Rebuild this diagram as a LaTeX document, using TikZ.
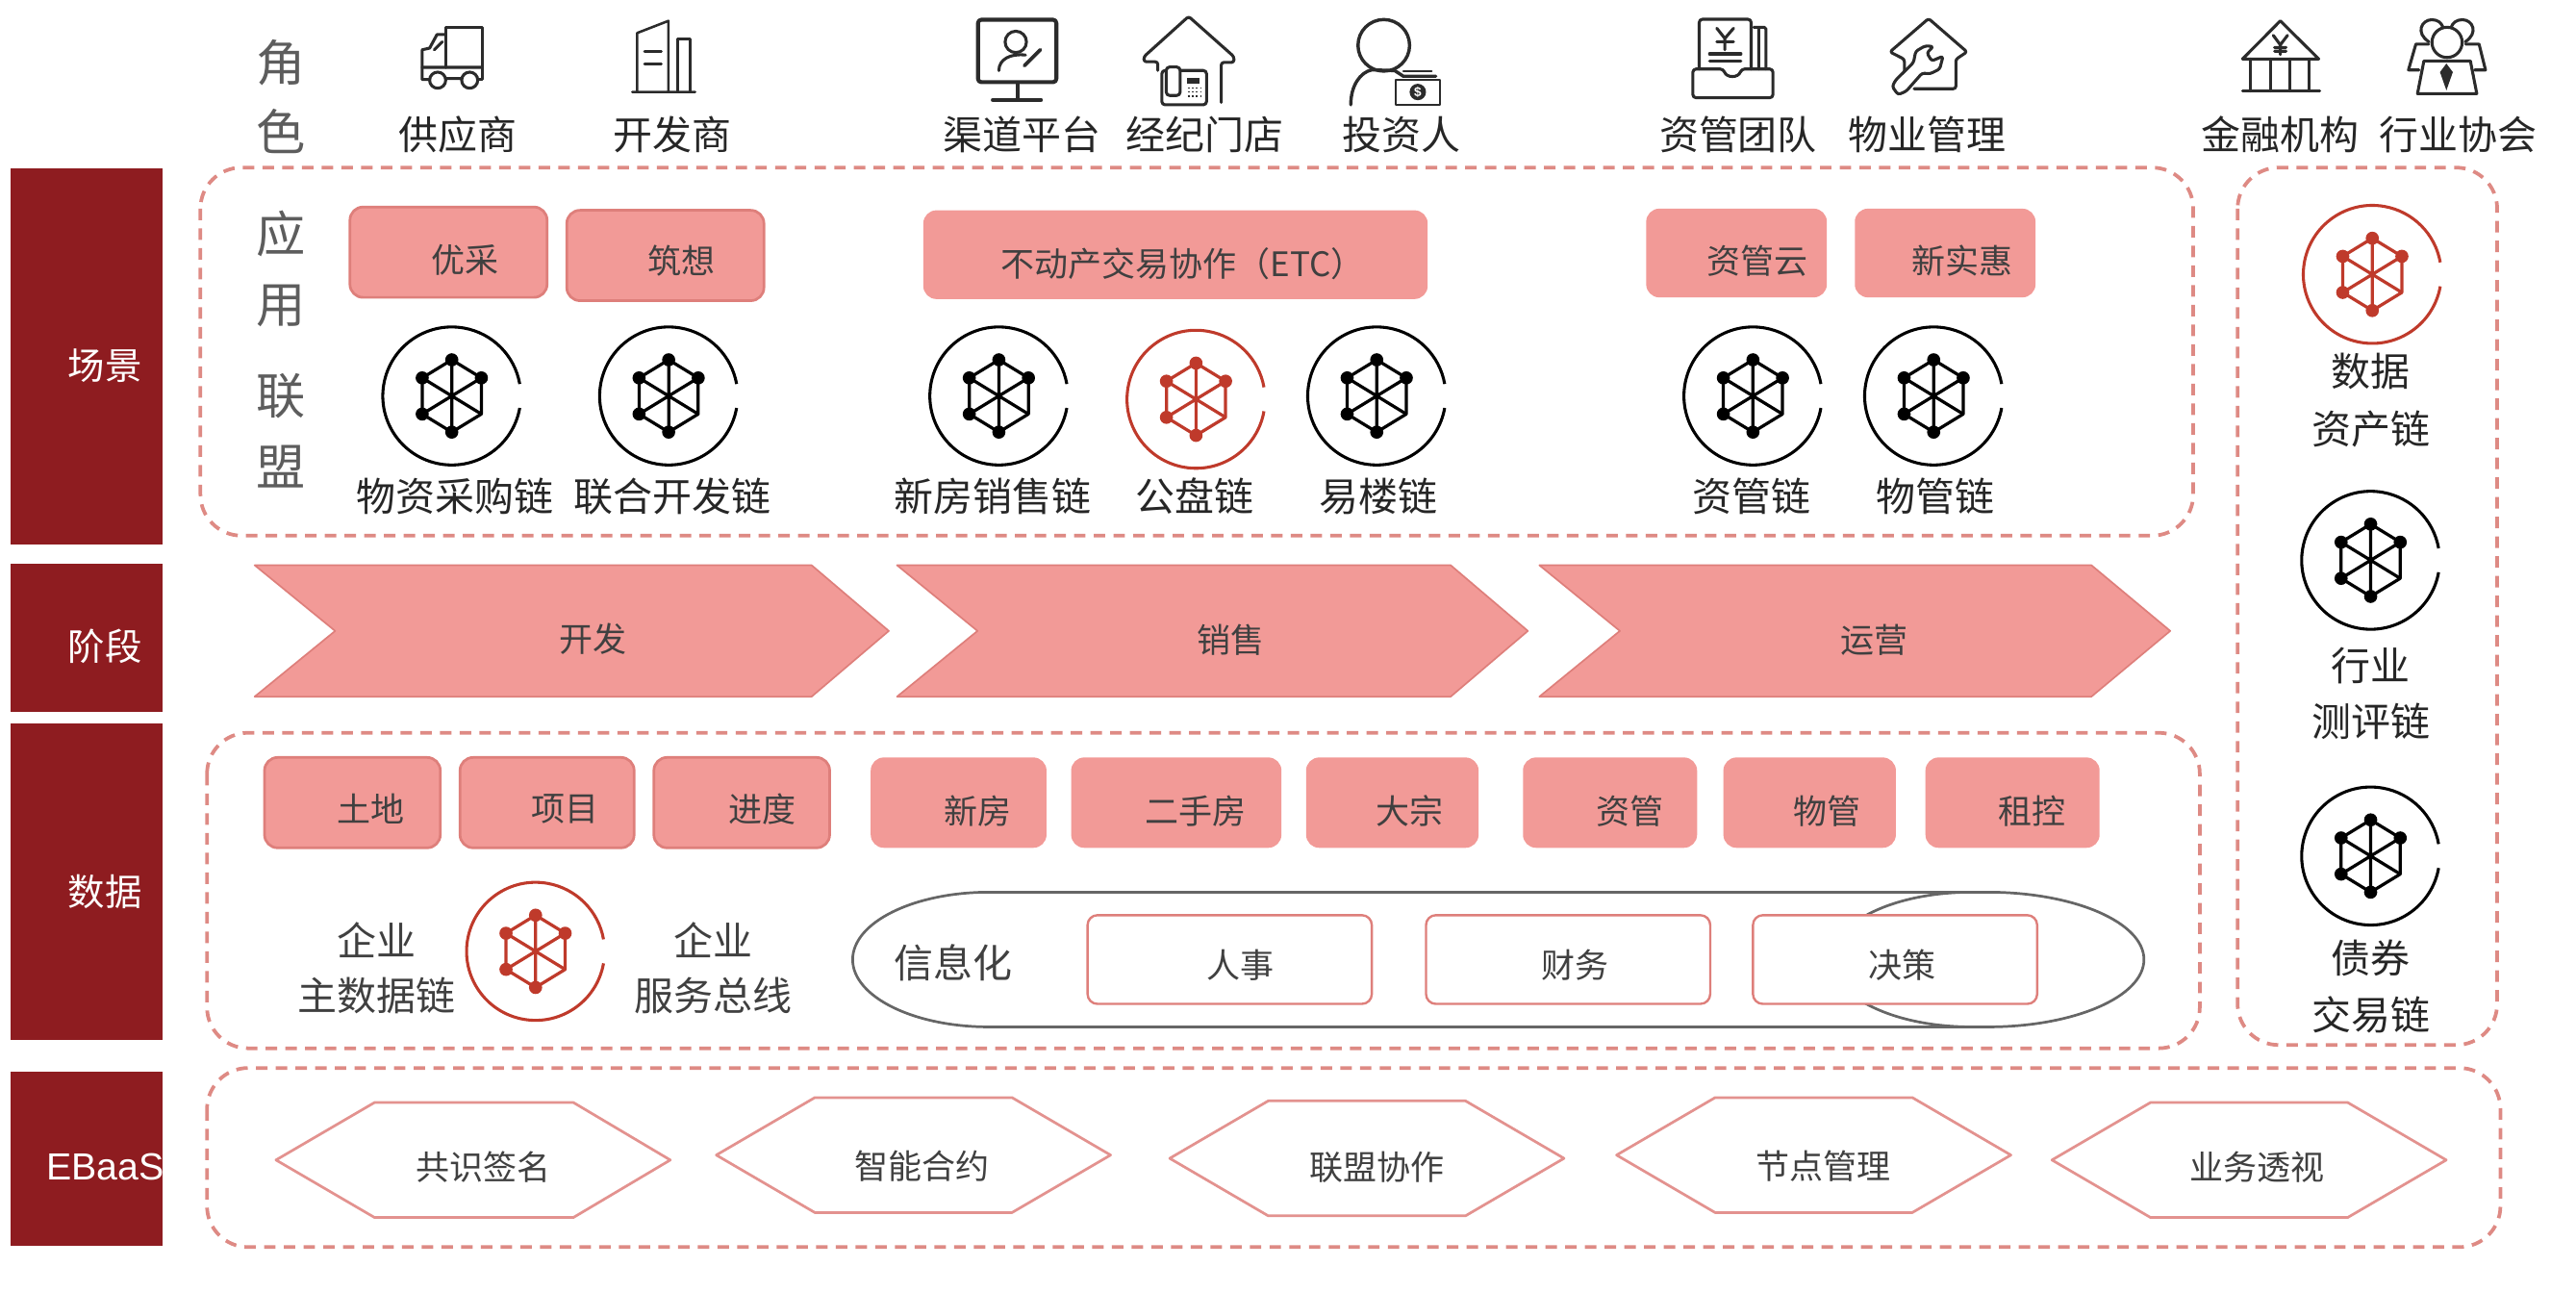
\documentclass[tikz,border=0pt]{standalone}
\usepackage{fontspec}
\setmainfont{Noto Sans CJK SC}
\newfontfamily\latinfont{Liberation Sans}
\definecolor{barred}{HTML}{8E1C20}
\definecolor{pinkfill}{HTML}{F29A97}
\definecolor{pinkline}{HTML}{DE7F7B}
\definecolor{dashred}{HTML}{DE8A84}
\definecolor{chainred}{HTML}{BF3A2B}
\definecolor{inktext}{HTML}{404040}
\definecolor{icongray}{HTML}{2B2B2B}

\begin{document}
\begin{tikzpicture}[x=1pt, y=-1pt, line join=round,
    every node/.style={inner sep=0pt},
    sidebar/.style={fill=barred, minimum width=93pt, anchor=north west},
    sidetext/.style={text=white, font=\fontsize{22.5}{26}\selectfont},
    dashbox/.style={draw=dashred, line width=2.2pt, dash pattern=on 7pt off 5pt, rounded corners=25pt},
    bigchar/.style={text=inktext!85, font=\fontsize{30}{32}\selectfont},
    rolename/.style={text=black!85, font=\fontsize{24}{28}\selectfont},
    chainname/.style={text=black!85, font=\fontsize{24}{28}\selectfont},
    graytext/.style={text=inktext, font=\fontsize{24}{28}\selectfont},
    boxtext/.style={text=inktext, font=\fontsize{20.5}{24}\selectfont},
    pinkflat/.style={fill=pinkfill, rounded corners=8pt},
    pinkbox/.style={pinkflat, draw=pinkline, line width=1.6pt},
    whitebox/.style={fill=white, draw=pinkline, line width=1.4pt, rounded corners=6pt, minimum width=173pt, minimum height=54pt},
    chevron/.style={fill=pinkfill, draw=pinkline, line width=1pt},
    hexline/.style={fill=white, draw=pinkline!85, line width=1.6pt},
    ovalline/.style={draw=black!60, line width=1.6pt},
    iconline/.style={draw=icongray, line width=1.8pt, line cap=round},
    chainicon/.pic={
        \draw[line width=1.8pt] (10:42) arc[start angle=10, end angle=350, radius=42];
        \draw[line width=1.9pt] (0,-22) -- (18,-11) -- (18,11) -- (0,22) -- (-18,11) -- (-18,-11) -- cycle;
        \draw[line width=1.9pt] (0,-22) -- (0,22) (-18,-11) -- (18,11) (-18,11) -- (18,-11);
        \fill (0,-22) circle[radius=4pt] (18,-11) circle[radius=4pt] (0,22) circle[radius=4pt]
              (-18,11) circle[radius=4pt] (-18,-11) circle[radius=4pt];
    }]
    \useasboundingbox (0,0) rectangle (1568,785.8);

    \node[sidebar, minimum height=229pt] (scene) at (6,102) {};
    \node[sidebar, minimum height=90pt] (phase) at (6,343) {};
    \node[sidebar, minimum height=193pt] (data) at (6,440) {};
    \node[sidebar, minimum height=106pt] (ebaas) at (6,652) {};
    \node[sidetext] (scenetxt) at (64,222.5) {场景};
    \node[sidetext] (phasetxt) at (64,393.5) {阶段};
    \node[sidetext] (datatxt) at (64,542.5) {数据};
    \node[sidetext, anchor=west, font=\latinfont\fontsize{23}{26}\selectfont] (ebaastxt) at (28,710) {EBaaS};

    \draw[dashbox] (122,102) rectangle (1335,326);
    \draw[dashbox] (1362,102) rectangle (1520,636);
    \draw[dashbox] (126,446) rectangle (1339,638);
    \draw[dashbox] (126,650) rectangle (1522,759);

    \node[bigchar] (c1) at (171,38) {角};
    \node[bigchar] (c2) at (171,80) {色};
    \node[bigchar] (c3) at (171,142) {应};
    \node[bigchar] (c4) at (171,186) {用};
    \node[bigchar] (c5) at (171,241) {联};
    \node[bigchar] (c6) at (171,284) {盟};

    \node[rolename] (r1) at (278.5,82) {供应商};
    \node[rolename] (r2) at (409,82) {开发商};
    \node[rolename] (r3) at (622,82) {渠道平台};
    \node[rolename] (r4) at (733.5,82) {经纪门店};
    \node[rolename] (r5) at (853,82) {投资人};
    \node[rolename] (r6) at (1058,82) {资管团队};
    \node[rolename] (r7) at (1173,82) {物业管理};
    \node[rolename] (r8) at (1388,82) {金融机构};
    \node[rolename] (r9) at (1496,82) {行业协会};

    \draw[iconline] (271.3,41) -- (271.3,16.6) -- (293.7,16.6) -- (293.7,48.4) -- (291,48.4);
    \draw[iconline] (271.3,21) -- (266,21) -- (261.5,29.3) -- (257,30.3) -- (257,48.4) -- (261.5,48.4);
    \draw[iconline] (257,41) -- (293.7,41) (271.3,47.8) -- (281,47.8) (264.4,30.3) -- (269.3,25.4);
    \draw[iconline] (266.4,48.8) circle[radius=4.9pt] (285.9,48.8) circle[radius=4.9pt];

    \draw[iconline, line width=1.5pt] (384.9,56) -- (423.2,56) (387.8,56) -- (387.8,20.1) -- (406.9,12.7) -- (406.9,56);
    \draw[iconline, line width=1.5pt] (412.4,56) -- (412.4,23.8) -- (420,23.8) -- (420,56);
    \draw[iconline, line width=1.5pt] (392.3,31.2) -- (402.6,31.2) (392.3,38.8) -- (402.6,38.8);

    \draw[iconline, line width=2.4pt, rounded corners=2pt] (595.3,12) rectangle (643,50);
    \draw[iconline, line width=2.4pt] (619.6,51) -- (619.6,60.6) (604.3,60.8) -- (633.6,60.8);
    \draw[iconline] (618.3,25.5) circle[radius=6.5pt];
    \draw[iconline] (608,43) .. controls (608,36) and (615,32.5) .. (624.2,33.5);
    \draw[iconline, line width=2.2pt] (623.5,40) -- (633.2,30.3);

    \draw[iconline, rounded corners=1.5pt] (704.7,42.9) -- (704.7,37.6) -- (696.3,37.6) -- (696.3,34.5) -- (723.5,10) -- (751.1,34.5) -- (751.1,38) -- (743.4,38) -- (743.4,62.3);
    \draw[iconline, rounded corners=2pt] (707.2,42.9) rectangle (734.4,63.8);
    \draw[iconline, rounded corners=2pt, fill=white] (709.9,40.8) rectangle (718.3,58.1);
    \fill[icongray] (722.5,47.5) rectangle (730.2,50.8);
    \draw[icongray, line width=1pt, dash pattern=on 1pt off 1.5pt] (723,53.5) -- (731,53.5) (723,56) -- (731,56) (723,58.5) -- (731,58.5);

    \draw[iconline, line width=2pt] (842.3,27.6) circle[radius=15.7pt];
    \draw[iconline, line width=2pt] (822.2,63.8) .. controls (822.2,52) and (828,44) .. (835,42.5) -- (849,43) -- (854.2,46.4) -- (874,46.4);
    \draw[iconline, line width=1.2pt] (854.2,43.5) -- (871.5,43.5);
    \draw[iconline, line width=1.4pt] (849.6,48.7) rectangle (876.6,63.8);
    \fill[icongray] (863,56) circle[radius=5pt];
    \node[text=white, font=\latinfont\bfseries\fontsize{8}{8}\selectfont] (usd) at (863,56) {\$};

    \draw[iconline, rounded corners=2pt] (1034.3,42) -- (1034.3,11.7) -- (1065.9,11.7) -- (1065.9,42);
    \draw[iconline, rounded corners=1pt] (1067.5,16.6) -- (1074.9,16.6) -- (1074.9,42) (1070.5,16.6) -- (1070.5,42);
    \draw[iconline, rounded corners=2pt] (1030.4,42) -- (1049,42) .. controls (1051,47.5) and (1058,47.5) .. (1060,42) -- (1079.2,42) -- (1079.2,59.5) -- (1030.4,59.5) -- cycle;
    \draw[iconline] (1045,17.2) -- (1049.9,23.4) -- (1055.2,17.2) (1049.9,23.4) -- (1049.9,30.3) (1045,25.4) -- (1055.2,25.4);
    \draw[iconline] (1040.6,32.8) -- (1059.7,32.8) (1040.6,37.1) -- (1059.7,37.1);

    \draw[iconline, rounded corners=1.5pt] (1159.2,43.9) -- (1159.2,36.1) -- (1150.4,31.6) -- (1173.9,11.3) -- (1197.3,31.6) -- (1190.5,36.1) -- (1190.5,54) -- (1165.1,54);
    \draw[iconline, fill=white, rounded corners=1.5pt] (1164.7,38.1) -- (1166.1,31.2) -- (1171.9,27.9) -- (1176.8,28.3) -- (1172.9,32.2) -- (1175.8,37.1) -- (1182.7,34.2) -- (1180.7,42) -- (1174.9,44.9) -- (1170,44.5) -- (1160.2,55.6) -- (1155.3,57.6) -- (1151.8,52.7) -- (1153.8,48.8) -- cycle;

    \draw[iconline] (1365,35.9) -- (1388,12.7) -- (1411.4,35.9) -- cycle;
    \draw[iconline] (1370,36) -- (1370,55.4) (1382.1,36) -- (1382.1,55.4) (1393.8,36) -- (1393.8,55.4) (1405.7,36) -- (1405.7,55.4) (1365,55.4) -- (1412,55.4);
    \draw[iconline] (1383.7,21.5) -- (1388,27.3) -- (1392.4,21.5) (1388,27.3) -- (1388,33.2) (1384.5,28.9) -- (1391.5,28.9) (1384.5,31.2) -- (1391.5,31.2);

    \draw[iconline] (1478.3,26.9) -- (1470.5,26.9) -- (1466,42.6) -- (1472.5,42.6);
    \draw[iconline] (1500.8,26.9) -- (1509,26.9) -- (1512.9,42.6) -- (1506.3,42.6);
    \draw[iconline] (1478.5,25.5) .. controls (1470,20) and (1474,12) .. (1480.3,12) .. controls (1484,12) and (1486,14) .. (1487,16.5);
    \draw[iconline] (1500.5,25.5) .. controls (1509,20) and (1505,12) .. (1498.8,12) .. controls (1495,12) and (1493,14) .. (1492,16.5);
    \draw[iconline] (1489.5,25.8) circle[radius=9.2pt];
    \draw[iconline] (1475.4,37.1) -- (1503.7,37.1) -- (1507.6,57) -- (1471.5,57) -- cycle;
    \fill[icongray] (1489.1,38.7) -- (1493,43.9) -- (1489.1,55) -- (1485.2,43.9) -- cycle;

    \node[pinkbox, minimum width=120pt, minimum height=55pt, label={[boxtext,xshift=10pt,yshift=-5pt]center:优采}] (b1) at (273,153.5) {};
    \node[pinkbox, minimum width=120pt, minimum height=55pt, label={[boxtext,xshift=10pt,yshift=-3pt]center:筑想}] (b2) at (405,155.5) {};
    \node[pinkflat, minimum width=307pt, minimum height=54pt, label={[boxtext,xshift=4.5pt,yshift=-5.5pt]center:不动产交易协作（ETC）}] (b3) at (715.5,155) {};
    \node[pinkflat, minimum width=110pt, minimum height=54pt, label={[boxtext,xshift=12.5pt,yshift=-4.5pt]center:资管云}] (b4) at (1057,154) {};
    \node[pinkflat, minimum width=110pt, minimum height=54pt, label={[boxtext,xshift=10.5pt,yshift=-4.5pt]center:新实惠}] (b5) at (1184,154) {};

    \pic at (275,241) {chainicon};
    \pic at (407,241) {chainicon};
    \pic at (608,241) {chainicon};
    \pic[color=chainred] at (728,243) {chainicon};
    \pic at (838,241) {chainicon};
    \pic at (1067,241) {chainicon};
    \pic at (1177,241) {chainicon};
    \pic[color=chainred] at (1444,167) {chainicon};
    \pic at (1443,341) {chainicon};
    \pic at (1443,521) {chainicon};
    \pic[color=chainred] at (326,579) {chainicon};

    \node[chainname] (n1) at (277,302) {物资采购链};
    \node[chainname] (n2) at (409,302) {联合开发链};
    \node[chainname] (n3) at (604,302) {新房销售链};
    \node[chainname] (n4) at (727,302) {公盘链};
    \node[chainname] (n5) at (839,302) {易楼链};
    \node[chainname] (n6) at (1066,302) {资管链};
    \node[chainname] (n7) at (1178,302) {物管链};
    \node[chainname] (n8) at (1443,226) {数据};
    \node[chainname] (n9) at (1443,261) {资产链};
    \node[chainname] (n10) at (1443,405) {行业};
    \node[chainname] (n11) at (1443,439) {测评链};
    \node[chainname] (n12) at (1443,583) {债券};
    \node[chainname] (n13) at (1443,617.5) {交易链};

    \draw[chevron] (155,344) -- (494,344) -- (541,384) -- (494,424) -- (155,424) -- (204,384) -- cycle;
    \draw[chevron] (546,344) -- (883,344) -- (930,384) -- (883,424) -- (546,424) -- (595,384) -- cycle;
    \draw[chevron] (937,344) -- (1273,344) -- (1321,384) -- (1273,424) -- (937,424) -- (986,384) -- cycle;
    \node[boxtext] (s1) at (361,389) {开发};
    \node[boxtext] (s2) at (749,389.5) {销售};
    \node[boxtext] (s3) at (1141,389.5) {运营};

    \node[pinkbox, minimum width=107pt, minimum height=55pt, label={[boxtext,xshift=11.5pt,yshift=-4pt]center:土地}] (d1) at (214.5,488.5) {};
    \node[pinkbox, minimum width=106pt, minimum height=55pt, label={[boxtext,xshift=11pt,yshift=-4pt]center:项目}] (d2) at (333,488.5) {};
    \node[pinkbox, minimum width=107pt, minimum height=55pt, label={[boxtext,xshift=12.5pt,yshift=-4pt]center:进度}] (d3) at (451.5,488.5) {};
    \node[pinkflat, minimum width=107pt, minimum height=55pt, label={[boxtext,xshift=11.5pt,yshift=-5pt]center:新房}] (d4) at (583.5,488.5) {};
    \node[pinkflat, minimum width=128pt, minimum height=55pt, label={[boxtext,xshift=12pt,yshift=-5pt]center:二手房}] (d5) at (716,488.5) {};
    \node[pinkflat, minimum width=105pt, minimum height=55pt, label={[boxtext,xshift=10.5pt,yshift=-5pt]center:大宗}] (d6) at (847.5,488.5) {};
    \node[pinkflat, minimum width=106pt, minimum height=55pt, label={[boxtext,xshift=12pt,yshift=-5pt]center:资管}] (d7) at (980,488.5) {};
    \node[pinkflat, minimum width=105pt, minimum height=55pt, label={[boxtext,xshift=10.5pt,yshift=-5pt]center:物管}] (d8) at (1101.5,488.5) {};
    \node[pinkflat, minimum width=106pt, minimum height=55pt, label={[boxtext,xshift=12pt,yshift=-5pt]center:租控}] (d9) at (1225,488.5) {};

    \node[graytext] (e1) at (229,572) {企业};
    \node[graytext] (e2) at (229,606) {主数据链};
    \node[graytext] (e3) at (434,572) {企业};
    \node[graytext] (e4) at (434,606) {服务总线};

    \draw[ovalline] (602,543) -- (1210,543) arc[start angle=90, end angle=-90, x radius=95pt, y radius=41pt] -- (602,625) arc[start angle=270, end angle=90, x radius=83pt, y radius=41pt] -- cycle;
    \draw[ovalline] (1200,543) arc[start angle=90, end angle=270, x radius=85pt, y radius=41pt];
    \node[graytext, font=\fontsize{24}{28}\selectfont] (xxh) at (580,586) {信息化};
    \node[whitebox, label={[boxtext,xshift=6.5pt,yshift=-3.5pt]center:人事}] (w1) at (748.5,584) {};
    \node[whitebox, label={[boxtext,xshift=4.5pt,yshift=-3.5pt]center:财务}] (w2) at (954.5,584) {};
    \node[whitebox, label={[boxtext,xshift=4.5pt,yshift=-3.5pt]center:决策}] (w3) at (1153.5,584) {};

    \draw[hexline] (168,706) -- (228,671) -- (349,671) -- (408,706) -- (349,741) -- (228,741) -- cycle;
    \draw[hexline] (436,703) -- (496,668) -- (616,668) -- (676,703) -- (616,738) -- (496,738) -- cycle;
    \draw[hexline] (712,705) -- (772,670) -- (892,670) -- (952,705) -- (892,740) -- (772,740) -- cycle;
    \draw[hexline] (984,703) -- (1044,668) -- (1164,668) -- (1224,703) -- (1164,738) -- (1044,738) -- cycle;
    \draw[hexline] (1249,706) -- (1309,671) -- (1429,671) -- (1489,706) -- (1429,741) -- (1309,741) -- cycle;
    \node[boxtext] (h1) at (294,710.5) {共识签名};
    \node[boxtext] (h2) at (561,709.5) {智能合约};
    \node[boxtext] (h3) at (838,710.5) {联盟协作};
    \node[boxtext] (h4) at (1110,709.5) {节点管理};
    \node[boxtext] (h5) at (1374,710.5) {业务透视};
\end{tikzpicture}
\end{document}
